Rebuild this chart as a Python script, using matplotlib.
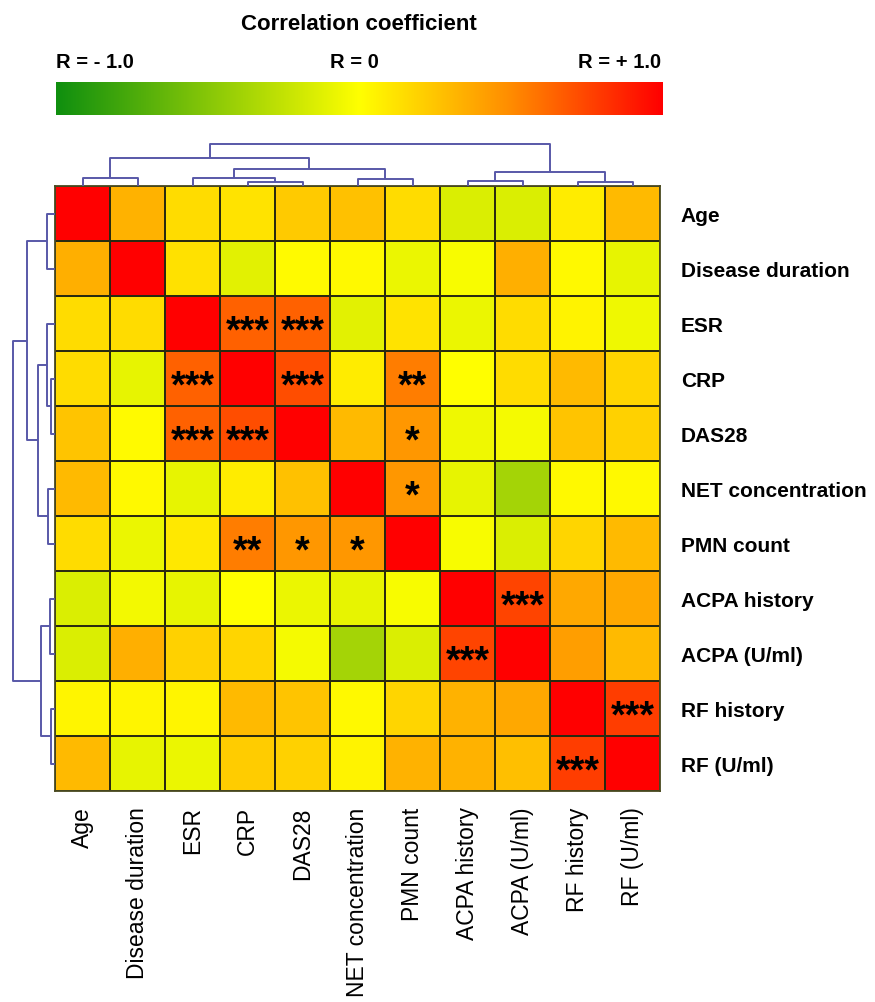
import numpy as np
import matplotlib
matplotlib.use('Agg')
from matplotlib import pyplot as plt
from matplotlib.colors import LinearSegmentedColormap

labels = ['Age', 'Disease duration', 'ESR', 'CRP', 'DAS28', 'NET concentration',
          'PMN count', 'ACPA history', 'ACPA (U/ml)', 'RF history', 'RF (U/ml)']

# correlation values (rows top to bottom)
r_age = [1.00, 0.33, 0.15, 0.12, 0.23, 0.27, 0.15, -0.15, -0.15, 0.08, 0.30]
r_dd = [0.35, 1.00, 0.13, -0.12, 0.02, 0.03, -0.08, -0.03, 0.35, 0.03, -0.10]
r_esr = [0.15, 0.15, 1.00, 0.65, 0.65, -0.12, 0.12, -0.08, 0.15, 0.05, -0.07]
r_crp = [0.15, -0.10, 0.65, 1.00, 0.72, 0.08, 0.55, 0.00, 0.15, 0.30, 0.18]
r_das = [0.25, 0.02, 0.65, 0.72, 1.00, 0.30, 0.45, -0.07, -0.04, 0.25, 0.20]
r_net = [0.30, 0.03, -0.10, 0.08, 0.27, 1.00, 0.45, -0.10, -0.38, 0.03, 0.03]
r_pmn = [0.15, -0.08, 0.10, 0.55, 0.45, 0.45, 1.00, -0.03, -0.15, 0.18, 0.30]
r_acpah = [-0.15, -0.05, -0.10, 0.00, -0.08, -0.10, -0.03, 1.00, 0.75, 0.38, 0.38]
r_acpau = [-0.15, 0.35, 0.20, 0.18, -0.04, -0.38, -0.15, 0.75, 1.00, 0.42, 0.30]
r_rfh = [0.04, 0.04, 0.04, 0.30, 0.25, 0.03, 0.18, 0.33, 0.38, 1.00, 0.78]
r_rf = [0.30, -0.10, -0.08, 0.22, 0.20, 0.05, 0.33, 0.33, 0.28, 0.78, 1.00]

corr = np.array([r_age, r_dd, r_esr, r_crp, r_das, r_net, r_pmn,
                 r_acpah, r_acpau, r_rfh, r_rf])

# significance marks
star_rows = [2, 2, 3, 3, 4, 4, 7, 8, 9, 10, 3, 6, 4, 5, 6, 6]
star_cols = [3, 4, 2, 4, 2, 3, 8, 7, 10, 9, 6, 3, 6, 6, 4, 5]
star_text = ['***'] * 10 + ['**', '**'] + ['*'] * 4

# dendrogram merges: (left cluster, right cluster, height); new clusters numbered from 11
merges = [(3, 4, 0.04), (2, 11, 0.08), (0, 1, 0.08), (5, 6, 0.07), (12, 14, 0.17),
          (13, 15, 0.28), (9, 10, 0.04), (7, 8, 0.05), (18, 17, 0.14), (16, 19, 0.42)]

cmap = LinearSegmentedColormap.from_list(
    'gyr', [(0.0, '#0f8f0f'), (0.5, '#ffff00'), (0.75, '#ff8c00'), (1.0, '#ff0000')])

plt.rcParams['font.family'] = ['Liberation Sans', 'DejaVu Sans']

W, H = 875, 1003
fig = plt.figure(figsize=(W / 100, H / 100), dpi=100)


def box(x0, y0, x1, y1):
    return [x0 / W, 1 - y1 / H, (x1 - x0) / W, (y1 - y0) / H]


n = len(labels)

# heatmap
ax = fig.add_axes(box(55, 187, 660, 792))
ax.pcolormesh(np.arange(n + 1), np.arange(n + 1), corr, cmap=cmap, vmin=-1, vmax=1,
              edgecolors='#2a2a10', linewidth=1.3)
ax.set_xlim(0, n)
ax.set_ylim(n, 0)
for s in ax.spines.values():
    s.set_color('#4a4a20')
    s.set_linewidth(1.3)
ax.set_xticks(np.arange(n) + 0.5)
ax.set_xticklabels(labels, rotation=90, fontsize=16.5)
ax.set_yticks(np.arange(n) + 0.5)
ax.set_yticklabels(labels, fontsize=15, fontweight='bold')
ax.yaxis.tick_right()
ax.tick_params(length=0, pad=15)
ax.tick_params(axis='x', pad=11)

# asterisks sit high in the font, so put the baseline below the cell centre
for r, c, t in zip(star_rows, star_cols, star_text):
    ax.text(c + 0.5, r + 0.82, t, ha='center', va='baseline',
            fontsize=27, fontweight='bold', color='black')


# dendrograms
def dendro_links():
    pos = {i: i + 0.5 for i in range(n)}
    hts = {i: 0.0 for i in range(n)}
    links = []
    for k, (a, b, h) in enumerate(merges):
        links.append(([pos[a], pos[a], pos[b], pos[b]], [hts[a], h, h, hts[b]]))
        pos[n + k] = (pos[a] + pos[b]) / 2
        hts[n + k] = h
    return links


dcol = '#5858a8'
axt = fig.add_axes(box(55, 140, 660, 187))
for xs, ys in dendro_links():
    axt.plot(xs, ys, color=dcol, lw=1.4, solid_capstyle='butt')
axt.set_xlim(0, n)
axt.set_ylim(0, 0.47)
axt.axis('off')

axl = fig.add_axes(box(8, 187, 55, 792))
for xs, ys in dendro_links():
    axl.plot(ys, xs, color=dcol, lw=1.4, solid_capstyle='butt')
axl.set_ylim(n, 0)
axl.set_xlim(0.47, 0)
axl.axis('off')

# colour key
axc = fig.add_axes(box(56, 83, 662, 116))
axc.imshow(np.linspace(-1, 1, 256)[None, :], cmap=cmap, aspect='auto', vmin=-1, vmax=1)
axc.axis('off')
fig.text(359 / W, 1 - 24 / H, 'Correlation coefficient', ha='center', va='center',
         fontsize=16, fontweight='bold')
fig.text(56 / W, 1 - 62 / H, 'R = - 1.0', ha='left', va='center', fontsize=14.5, fontweight='bold')
fig.text(354 / W, 1 - 62 / H, 'R = 0', ha='center', va='center', fontsize=14.5, fontweight='bold')
fig.text(661 / W, 1 - 62 / H, 'R = + 1.0', ha='right', va='center', fontsize=14.5, fontweight='bold')

fig.savefig('out.png', dpi=100)
